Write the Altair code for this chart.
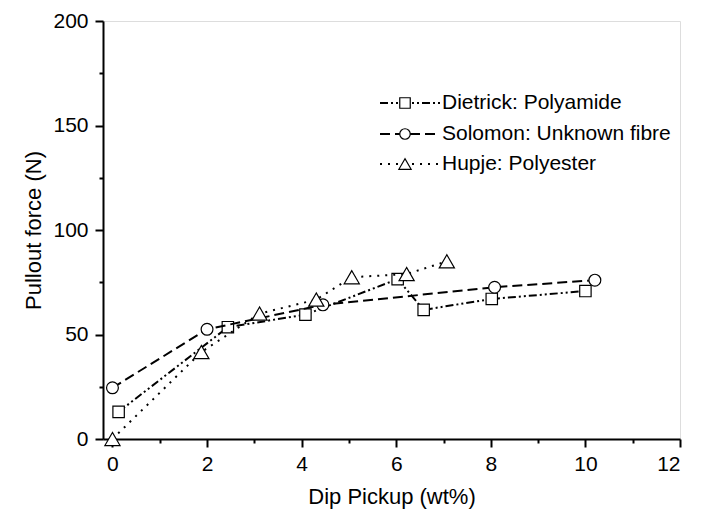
import altair as alt
import pandas as pd

# Data
dietrick_x = [0.13, 2.44, 4.08, 6.03, 6.58, 8.02, 10.0]
dietrick_y = [13.0, 53.5, 59.5, 76.5, 61.8, 67.0, 70.8]

solomon_x = [0.0, 2.0, 4.45, 8.08, 10.2]
solomon_y = [24.5, 52.5, 64.2, 72.6, 76.0]

hupje_x = [0.0, 1.88, 3.11, 4.31, 5.06, 6.22, 7.07]
hupje_y = [0.0, 41.6, 60.0, 66.7, 77.4, 78.9, 85.0]

series_names = ["Dietrick: Polyamide", "Solomon: Unknown fibre", "Hupje: Polyester"]
series_shapes = ["square", "circle", "triangle-up"]
series_sizes = [130, 140, 230]
legend_sizes = [110, 110, 150]
series_dashes = [[8, 3, 2, 3, 2, 3], [10, 5], [2, 6]]

x_ticks = list(range(0, 13))
y_ticks = list(range(0, 201, 25))

rows = []
for name, xs, ys in zip(series_names,
                        [dietrick_x, solomon_x, hupje_x],
                        [dietrick_y, solomon_y, hupje_y]):
    for i, (a, b) in enumerate(zip(xs, ys)):
        rows.append({"series": name, "x": a, "y": b, "order": i})
df = pd.DataFrame(rows)

FONT = "Liberation Sans"
W, H = 577, 418

x_scale = alt.Scale(domain=[-0.2, 12], nice=False, zero=False)
y_scale = alt.Scale(domain=[0, 200], nice=False)

x_axis = alt.Axis(
    values=x_ticks,
    labelExpr="datum.value % 2 === 0 ? datum.label : ''",
    tickSize={"condition": {"test": "datum.value % 2 === 0", "value": 8}, "value": 4},
    grid=False, domainColor="black", domainWidth=2, tickColor="black", tickWidth=2,
    labelFont=FONT, labelFontSize=21, labelColor="black", labelPadding=6,
    titleFont=FONT, titleFontSize=22, titleFontWeight="normal", titleColor="black",
    titlePadding=12, title="Dip Pickup (wt%)",
)
y_axis = alt.Axis(
    values=y_ticks,
    labelExpr="datum.value % 50 === 0 ? datum.label : ''",
    tickSize={"condition": {"test": "datum.value % 50 === 0", "value": 8}, "value": 4},
    grid=False, domainColor="black", domainWidth=2, tickColor="black", tickWidth=2,
    labelFont=FONT, labelFontSize=21, labelColor="black", labelPadding=7,
    titleFont=FONT, titleFontSize=22, titleFontWeight="normal", titleColor="black",
    titlePadding=7, title="Pullout force (N)",
)

layers = []
for name, shape, size, dash in zip(series_names, series_shapes, series_sizes, series_dashes):
    sub = df[df["series"] == name]
    base = alt.Chart(sub)
    line = base.mark_line(color="black", strokeWidth=2, strokeDash=dash).encode(
        x=alt.X("x:Q", scale=x_scale, axis=x_axis),
        y=alt.Y("y:Q", scale=y_scale, axis=y_axis),
        order="order:Q",
    )
    pts = base.mark_point(shape=shape, size=size, filled=True, fill="white",
                          stroke="black", strokeWidth=1.2, opacity=1).encode(
        x="x:Q", y="y:Q",
    )
    layers += [line, pts]

# Manual legend (pixel positions inside the plot area)
leg_x0, leg_x1, leg_mx, leg_tx = 277, 337, 302, 339
leg_rows = [82, 113, 143]
for name, shape, size, dash, ry in zip(series_names, series_shapes, legend_sizes,
                                       series_dashes, leg_rows):
    one = alt.Chart(pd.DataFrame({"label": [name]}))
    layers.append(one.mark_rule(color="black", strokeWidth=2, strokeDash=dash).encode(
        x=alt.value(leg_x0), x2=alt.value(leg_x1), y=alt.value(ry)))
    layers.append(one.mark_point(shape=shape, size=size, filled=True, fill="white",
                                 stroke="black", strokeWidth=1.2, opacity=1).encode(
        x=alt.value(leg_mx), y=alt.value(ry)))
    layers.append(one.mark_text(align="left", baseline="middle", font=FONT,
                                fontSize=21, color="black").encode(
        x=alt.value(leg_tx), y=alt.value(ry), text="label:N"))

chart = alt.layer(*layers).properties(
    width=W, height=H,
    autosize=alt.AutoSizeParams(type="none"),
    padding={"left": 103, "top": 21, "right": 33, "bottom": 78},
).configure_view(stroke=None).configure(background="white")

chart.save("out.html", embed_options={"renderer": "svg", "actions": False})
